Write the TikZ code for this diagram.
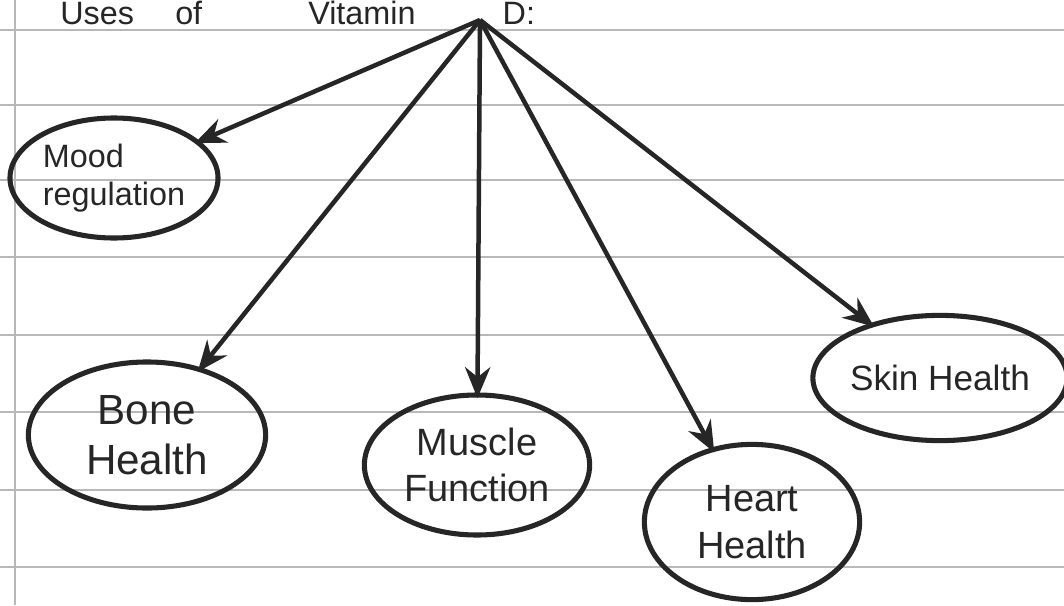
\documentclass[tikz,border=0pt]{standalone}
\usepackage{fontspec}
\setmainfont{Liberation Sans}
\usetikzlibrary{shapes.geometric,arrows.meta}
\definecolor{ink}{HTML}{262626}
\definecolor{rule}{HTML}{B8B8B8}
\begin{document}
\begin{tikzpicture}[x=0.025cm,y=-0.025cm,
  ruled/.style={draw=rule,line width=0.8pt},
  bubble/.style={ellipse,draw=ink,line width=3.6pt,inner sep=0pt,align=center,text=ink},
  link/.style={draw=ink,line width=3.2pt,-{Stealth[length=22pt,width=18pt]},shorten >=-4pt}]
\fill[white] (0,0) rectangle (1064,605);
\useasboundingbox (0,0) rectangle (1064,605);
\foreach \yy in {30,105,180,257,335,412,490,567} \draw[ruled] (0,\yy) -- (1064,\yy);
\draw[ruled] (15,0) -- (15,605);
\node[text=ink,anchor=base west,inner sep=0pt,font=\fontsize{23}{26}\selectfont] (title) at (60,24) {Uses\quad\ of\qquad\quad\ Vitamin\hspace{62pt}D:};
\coordinate (hub) at (480,20);
\node[bubble,minimum width=5.2cm,minimum height=3.0cm,align=left,font=\fontsize{23}{27}\selectfont] (mood) at (114,178) {Mood\\ regulation};
\node[bubble,minimum width=5.93cm,minimum height=3.65cm,font=\fontsize{30}{36}\selectfont] (bone) at (147,435) {Bone\\Health};
\node[bubble,minimum width=5.63cm,minimum height=3.5cm,font=\fontsize{27}{33}\selectfont] (muscle) at (477,465) {Muscle\\Function};
\node[bubble,minimum width=5.38cm,minimum height=3.88cm,font=\fontsize{27}{33}\selectfont] (heart) at (752,522) {Heart\\Health};
\node[bubble,minimum width=6.0cm,minimum height=3.13cm,font=\fontsize{25}{30}\selectfont] (skin) at (940,378) {Skin Health};
\draw[link] (hub) -- (mood);
\draw[link] (hub) -- (bone);
\draw[link] (hub) -- (muscle);
\draw[link] (hub) -- (heart);
\draw[link] (hub) -- (skin);
\end{tikzpicture}
\end{document}
